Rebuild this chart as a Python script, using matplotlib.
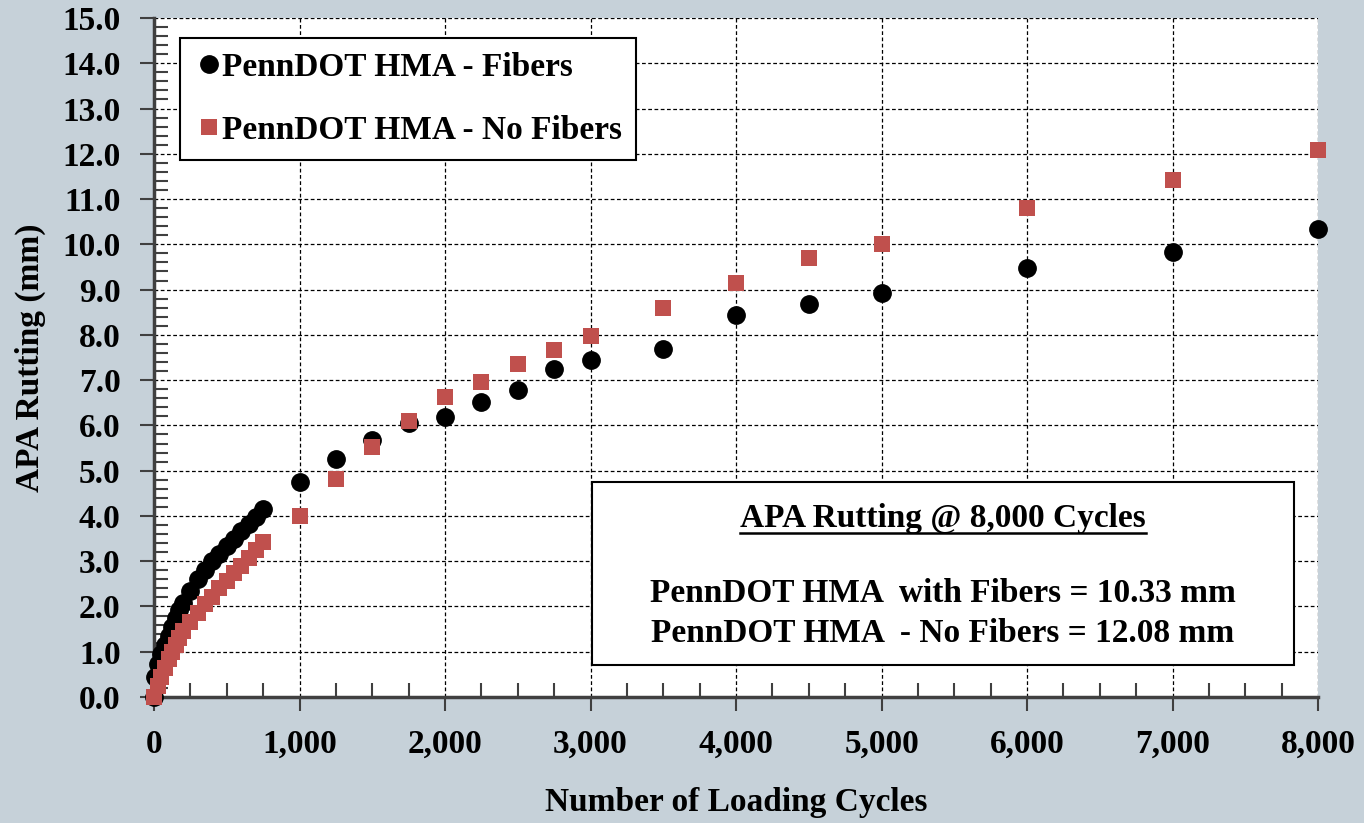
import matplotlib
matplotlib.use("Agg")
import matplotlib.pyplot as plt
from matplotlib.ticker import MultipleLocator, FuncFormatter
from matplotlib.patches import Rectangle
from matplotlib.lines import Line2D

# ---- data ----
cycles_fibers = [0, 10, 25, 50, 75, 100, 125, 150, 175, 200, 250, 300, 350, 400, 450,
                 500, 550, 600, 650, 700, 750, 1000, 1250, 1500, 1750, 2000, 2250,
                 2500, 2750, 3000, 3500, 4000, 4500, 5000, 6000, 7000, 8000]
rut_fibers = [0.0, 0.45, 0.72, 0.95, 1.15, 1.35, 1.55, 1.75, 1.92, 2.08, 2.35, 2.6,
              2.8, 3.0, 3.17, 3.33, 3.5, 3.67, 3.82, 3.98, 4.15, 4.75, 5.26, 5.68,
              6.05, 6.19, 6.52, 6.78, 7.25, 7.44, 7.69, 8.44, 8.68, 8.92, 9.48, 9.83, 10.33]

cycles_nofib = [0, 25, 50, 75, 100, 125, 150, 175, 200, 250, 300, 350, 400, 450,
                500, 550, 600, 650, 700, 750, 1000, 1250, 1500, 1750, 2000, 2250,
                2500, 2750, 3000, 3500, 4000, 4500, 5000, 6000, 7000, 8000]
rut_nofib = [0.0, 0.25, 0.45, 0.65, 0.85, 1.0, 1.15, 1.3, 1.45, 1.65, 1.85, 2.05,
             2.22, 2.4, 2.57, 2.73, 2.9, 3.07, 3.24, 3.43, 4.0, 4.82, 5.52, 6.10,
             6.63, 6.96, 7.36, 7.67, 7.97, 8.59, 9.15, 9.70, 10.01, 10.80, 11.42, 12.08]

series_labels = ["PennDOT HMA - Fibers", "PennDOT HMA - No Fibers"]
box_title = "APA Rutting @ 8,000 Cycles"
box_lines = ["PennDOT HMA  with Fibers = 10.33 mm", "PennDOT HMA  - No Fibers = 12.08 mm"]
x_label = "Number of Loading Cycles"
y_label = "APA Rutting (mm)"

# ---- style ----
plt.rcParams['font.family'] = ['Liberation Serif', 'DejaVu Serif']
plt.rcParams['font.weight'] = 'bold'
bg = '#C6D1D9'
red = '#C0504D'

fig = plt.figure(figsize=(13.64, 8.23), dpi=100, facecolor=bg)
ax = fig.add_axes([154/1364, 1-697/823, (1318-154)/1364, (697-18)/823])
ax.set_facecolor('white')

ax.plot(cycles_fibers, rut_fibers, 'o', color='black', markersize=12.5,
        label=series_labels[0], zorder=3, clip_on=False)
ax.plot(cycles_nofib, rut_nofib, 's', color=red, markersize=11.5, markeredgewidth=0,
        label=series_labels[1], zorder=4, clip_on=False)

ax.set_xlim(0, 8000)
ax.set_ylim(0, 15)
ax.xaxis.set_major_locator(MultipleLocator(1000))
ax.xaxis.set_minor_locator(MultipleLocator(250))
ax.yaxis.set_major_locator(MultipleLocator(1))
ax.yaxis.set_minor_locator(MultipleLocator(0.2))
ax.xaxis.set_major_formatter(FuncFormatter(lambda v, p: f"{int(v):,}"))
ax.yaxis.set_major_formatter(FuncFormatter(lambda v, p: f"{v:.1f}"))

ax.grid(True, which='major', linestyle=(0, (3, 2)), color='black', linewidth=0.9)
ax.set_axisbelow(True)

for s in ['top', 'right']:
    ax.spines[s].set_visible(False)
for s in ['left', 'bottom']:
    ax.spines[s].set_color('#404040')
    ax.spines[s].set_linewidth(2.5)

ax.tick_params(axis='both', which='major', direction='out', length=10, width=1.5,
               color='#404040', labelsize=24)
ax.tick_params(axis='y', which='major', pad=14)
ax.tick_params(axis='x', which='major', pad=13)
ax.tick_params(axis='both', which='minor', direction='in', length=10, width=1.5,
               color='#404040')
for lbl in ax.get_xticklabels() + ax.get_yticklabels():
    lbl.set_fontweight('bold')

ax.set_xlabel(x_label, fontsize=24, fontweight='bold')
ax.xaxis.set_label_coords(0.5, -(803-697)/679)
ax.xaxis.label.set_va('center')
ax.set_ylabel(y_label, fontsize=24, fontweight='bold', labelpad=12)

leg = ax.legend(loc='upper left', bbox_to_anchor=((180-154)/1164, 1-(38-18)/679),
                fontsize=24, frameon=True, fancybox=False, framealpha=1,
                edgecolor='black', handlelength=0.9, handletextpad=-0.05,
                borderpad=0.42, labelspacing=0.95, borderaxespad=0)
leg.get_frame().set_linewidth(1.5)
for t in leg.get_texts():
    t.set_fontweight('bold')

# annotation box
bx0 = (592-154)/1164
bx1 = (1294-154)/1164
by0 = 1-(665-18)/679
by1 = 1-(482-18)/679
ax.add_patch(Rectangle((bx0, by0), bx1-bx0, by1-by0, transform=ax.transAxes,
                       facecolor='white', edgecolor='black', linewidth=1.5, zorder=5))
cx = (943-154)/1164
t = ax.text(cx, 1-(519-18)/679, box_title, transform=ax.transAxes, ha='center',
            va='center', fontsize=24, fontweight='bold', zorder=6)
fig.canvas.draw()
bb = t.get_window_extent().transformed(ax.transAxes.inverted())
ax.add_line(Line2D([bb.x0, bb.x1], [bb.y0 + 0.002, bb.y0 + 0.002], transform=ax.transAxes,
                   color='black', linewidth=1.8, zorder=6))
ax.text(cx, 1-(594-18)/679, box_lines[0], transform=ax.transAxes, ha='center',
        va='center', fontsize=24, fontweight='bold', zorder=6)
ax.text(cx, 1-(633-18)/679, box_lines[1], transform=ax.transAxes, ha='center',
        va='center', fontsize=24, fontweight='bold', zorder=6)

fig.savefig('out.png', dpi=100, facecolor=bg)
